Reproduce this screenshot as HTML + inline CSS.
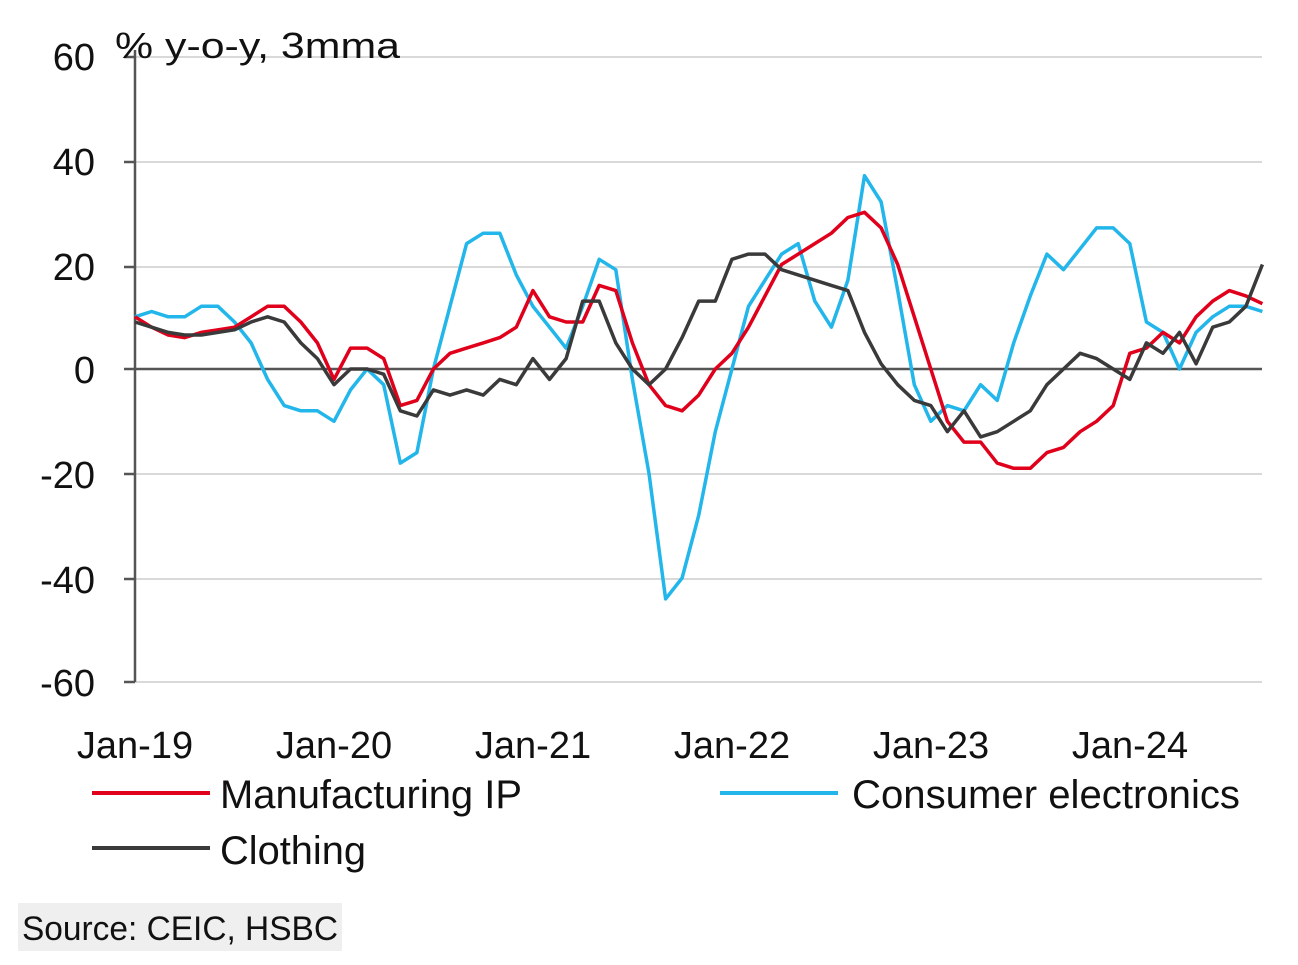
<!DOCTYPE html>
<html><head><meta charset="utf-8"><style>
html,body{margin:0;padding:0;background:#fff;}
svg{display:block;}
text{font-family:"Liberation Sans Narrow","Liberation Sans",sans-serif;fill:#111;}
</style></head><body>
<svg id="s" width="1298" height="965" viewBox="0 0 1298 965" xmlns="http://www.w3.org/2000/svg">
<g stroke="#d9d9d9" stroke-width="2">
<line x1="135" y1="57" x2="1262" y2="57"/>
<line x1="135" y1="162" x2="1262" y2="162"/>
<line x1="135" y1="267" x2="1262" y2="267"/>
<line x1="135" y1="474" x2="1262" y2="474"/>
<line x1="135" y1="579" x2="1262" y2="579"/>
<line x1="135" y1="682" x2="1262" y2="682"/>
</g>
<line x1="135" y1="369" x2="1262" y2="369" stroke="#555" stroke-width="2.5"/>
<line x1="135" y1="50" x2="135" y2="682" stroke="#555" stroke-width="2.5"/>
<g stroke="#555" stroke-width="2.5">
<line x1="124" y1="57" x2="135" y2="57"/><line x1="124" y1="162" x2="135" y2="162"/><line x1="124" y1="267" x2="135" y2="267"/><line x1="124" y1="369" x2="135" y2="369"/><line x1="124" y1="474" x2="135" y2="474"/><line x1="124" y1="579" x2="135" y2="579"/><line x1="124" y1="682" x2="135" y2="682"/>
</g>
<g font-size="38" text-anchor="end">
<text x="95" y="70">60</text><text x="95" y="175">40</text><text x="95" y="280">20</text><text x="95" y="383">0</text><text x="95" y="488">-20</text><text x="95" y="593">-40</text><text x="95" y="696">-60</text>
</g>
<text x="115" y="58" font-size="36" textLength="285" lengthAdjust="spacingAndGlyphs">% y-o-y, 3mma</text>
<g font-size="38" text-anchor="middle">
<text x="135" y="758">Jan-19</text><text x="334" y="758">Jan-20</text><text x="533" y="758">Jan-21</text><text x="732" y="758">Jan-22</text><text x="931" y="758">Jan-23</text><text x="1130" y="758">Jan-24</text>
</g>
<g id="series"></g>
<line x1="92" y1="793" x2="210" y2="793" stroke="#e0001b" stroke-width="4"/>
<text x="220" y="808" font-size="40" textLength="302" lengthAdjust="spacingAndGlyphs">Manufacturing IP</text>
<line x1="720" y1="793" x2="838" y2="793" stroke="#22b6ea" stroke-width="4"/>
<text x="852" y="808" font-size="40" textLength="388" lengthAdjust="spacingAndGlyphs">Consumer electronics</text>
<line x1="92" y1="848" x2="210" y2="848" stroke="#3a3a3a" stroke-width="4"/>
<text x="220" y="864" font-size="40" textLength="146" lengthAdjust="spacingAndGlyphs">Clothing</text>
<rect x="18" y="903" width="324" height="48" fill="#efefef"/>
<text x="22" y="940" font-size="34" textLength="316" lengthAdjust="spacingAndGlyphs">Source: CEIC, HSBC</text>
</svg>
<script>
var red=[10,8,6.5,6,7,7.5,8,10,12,12,9,5,-2,4,4,2,-7,-6,0,3,4,5,6,8,15,10,9,9,16,15,5,-3,-7,-8,-5,0,3,8,14,20,22,24,26,29,30,27,20,10,0,-10,-14,-14,-18,-19,-19,-16,-15,-12,-10,-7,3,4,7,5,10,13,15,14,12.5];
var blue=[10,11,10,10,12,12,9,5,-2,-7,-8,-8,
-10,-4,0,-3,-18,-16,0,12,24,26,26,18,
12,8,4,12,21,19,-2,-20,-44,-40,-28,-12,
0,12,17,22,24,13,8,17,37,32,15,
-3,-10,-7,-8,-3,-6,5,14,22,19,23,27,27,
24,9,7,0,7,10,12,12,11];
var blk=[9,8,7,6.5,6.5,7,7.5,9,10,9,5,2,-3,0,0,-1,-8,-9,-4,-5,-4,-5,-2,-3,2,-2,2,13,13,5,0,-3,0,6,13,13,21,22,22,19,18,17,16,15,7,1,-3,-6,-7,-12,-8,-13,-12,-10,-8,-3,0,3,2,0,-2,5,3,7,1,8,9,12,20];
function pl(d,c){var p=d.map(function(v,i){return (135+i*16.58).toFixed(1)+','+(369-v*5.225).toFixed(1)}).join(' ');
return '<polyline fill="none" stroke="'+c+'" stroke-width="3.5" stroke-linejoin="round" points="'+p+'"/>';}
document.getElementById('series').innerHTML=pl(blue,'#22b6ea')+pl(red,'#e0001b')+pl(blk,'#3a3a3a');
</script>
</body></html>
